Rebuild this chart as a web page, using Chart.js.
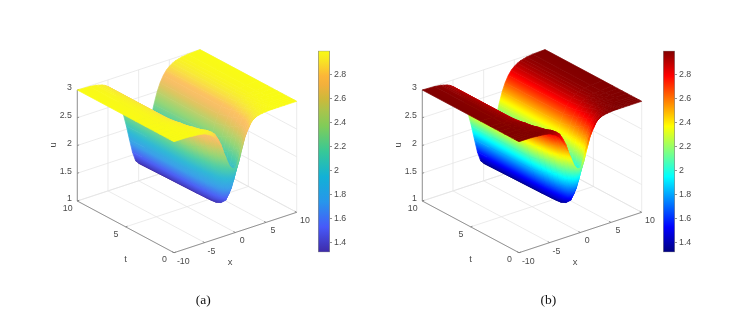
<!DOCTYPE html>
<html><head><meta charset="utf-8">
<style>
html,body{margin:0;padding:0;background:#fff;width:751px;height:316px;overflow:hidden}
.box{position:absolute}
canvas{display:block;filter:blur(0.35px)}
</style>
<script src="https://cdn.jsdelivr.net/npm/chart.js@4/dist/chart.umd.min.js"></script>
</head><body>
<div class="box" style="left:0;top:0;width:310px;height:316px"><canvas id="sa"></canvas></div>
<div class="box" style="left:345px;top:0;width:310px;height:316px"><canvas id="sb"></canvas></div>
<div class="box" style="left:316px;top:46px;width:32px;height:212px"><canvas id="ca"></canvas></div>
<div class="box" style="left:661px;top:46px;width:32px;height:212px"><canvas id="cb"></canvas></div>
<script>
// ---- values ----
const xGrid = [-10,-8,-7,-6.5,-6,-5.5,-5,-4.5,-4,-3.5,-3,-2.5,-2,-1.5,-1,-0.5,0,0.5,1,1.5,2,2.5,3,3.5,4,4.5,5,5.5,6,6.5,7,8,10];
const tGrid = [0,0.25,0.5,0.75,1,1.5,2,2.5,3,4,10];
const u_t0   = [3.00,3.00,2.99,2.985,2.98,2.97,2.96,2.93,2.90,2.85,2.77,2.67,2.54,2.39,2.25,2.17,2.16,2.29,2.49,2.67,2.80,2.89,2.94,2.966,2.98,2.99,2.995,3.00,3.00,3.00,3.00,3.00,3.00];
const u_t025 = [3.00,3.00,3.00,3.00,2.995,2.99,2.98,2.97,2.95,2.91,2.86,2.76,2.64,2.45,2.24,2.07,2.00,2.07,2.24,2.45,2.64,2.76,2.86,2.91,2.95,2.97,2.98,2.99,2.995,3.00,3.00,3.00,3.00];
const u_t05  = [3.00,3.00,3.00,3.00,2.99,2.99,2.98,2.96,2.94,2.89,2.83,2.71,2.56,2.34,2.08,1.88,1.79,1.88,2.08,2.34,2.56,2.71,2.83,2.89,2.94,2.96,2.98,2.99,2.99,3.00,3.00,3.00,3.00];
const u_t075 = [3.00,3.00,3.00,2.995,2.99,2.98,2.97,2.95,2.92,2.87,2.79,2.66,2.46,2.21,1.94,1.71,1.62,1.71,1.94,2.21,2.46,2.66,2.79,2.87,2.92,2.95,2.97,2.98,2.99,2.995,3.00,3.00,3.00];
const u_t1   = [3.00,3.00,2.995,2.99,2.985,2.98,2.96,2.94,2.89,2.83,2.73,2.58,2.37,2.09,1.81,1.58,1.49,1.58,1.81,2.09,2.37,2.58,2.73,2.83,2.89,2.94,2.96,2.98,2.985,2.99,2.995,3.00,3.00];
const u_t15  = [3.00,3.00,2.99,2.99,2.98,2.97,2.95,2.92,2.86,2.79,2.67,2.50,2.28,2.01,1.72,1.49,1.40,1.49,1.72,2.01,2.28,2.50,2.67,2.79,2.86,2.92,2.95,2.97,2.98,2.99,2.99,3.00,3.00];
const u_t2   = [3.00,2.995,2.99,2.98,2.97,2.96,2.93,2.89,2.84,2.75,2.62,2.44,2.21,1.93,1.66,1.44,1.36,1.44,1.66,1.93,2.21,2.44,2.62,2.75,2.84,2.89,2.93,2.96,2.97,2.98,2.99,2.995,3.00];
const u_t25  = [3.00,2.995,2.985,2.98,2.97,2.95,2.92,2.87,2.81,2.71,2.57,2.41,2.16,1.90,1.63,1.43,1.35,1.43,1.63,1.90,2.16,2.41,2.57,2.71,2.81,2.87,2.92,2.95,2.97,2.98,2.985,2.995,3.00];
const u_t3   = [3.00,2.99,2.98,2.97,2.955,2.93,2.90,2.85,2.78,2.69,2.54,2.35,2.11,1.86,1.60,1.41,1.345,1.41,1.60,1.86,2.11,2.35,2.54,2.69,2.78,2.85,2.90,2.93,2.955,2.97,2.98,2.99,3.00];
const u_t4   = [3.00,2.99,2.977,2.965,2.947,2.92,2.88,2.83,2.75,2.64,2.49,2.30,2.07,1.82,1.58,1.405,1.34,1.405,1.58,1.82,2.07,2.30,2.49,2.64,2.75,2.83,2.88,2.92,2.947,2.965,2.977,2.99,3.00];
const u_t10  = [3.00,2.99,2.975,2.96,2.945,2.92,2.88,2.83,2.75,2.64,2.49,2.29,2.06,1.80,1.55,1.38,1.316,1.38,1.55,1.80,2.06,2.29,2.49,2.64,2.75,2.83,2.88,2.92,2.945,2.96,2.975,2.99,3.00];
const uRows = [u_t0,u_t025,u_t05,u_t075,u_t1,u_t15,u_t2,u_t25,u_t3,u_t4,u_t10];
const xTicks = [-10,-5,0,5,10];
const tTicks = [0,5,10];
const uTicks = [1,1.5,2,2.5,3];
const barTicks = [1.4,1.6,1.8,2,2.2,2.4,2.6,2.8];
const colorMin = 1.316, colorMax = 3.0;
// ---- colour maps ----
const parulaStops = [[0,'#3e2aa8'],[0.125,'#4759f9'],[0.25,'#2796eb'],[0.375,'#12b1d6'],[0.5,'#37c897'],[0.625,'#80cc59'],[0.70,'#a8c44c'],[0.76,'#cdb93a'],[0.83,'#f2b03c'],[0.875,'#fcb638'],[0.95,'#f8e424'],[1,'#f9fb14']];
const paleParulaStops = [[0,'#3e2aa8'],[0.125,'#4d60f5'],[0.25,'#3b9fea'],[0.375,'#2fb9d6'],[0.5,'#50cfa6'],[0.625,'#96d676'],[0.70,'#bcd06a'],[0.76,'#dcc660'],[0.83,'#f6bf66'],[0.875,'#fcc262'],[0.95,'#f8e83a'],[1,'#f9fb14']];
const jetStops = [[0,'#000080'],[0.125,'#0000ff'],[0.375,'#00ffff'],[0.625,'#ffff00'],[0.875,'#ff0000'],[1,'#800000']];
function hex(c){return [1,3,5].map(i=>parseInt(c.substr(i,2),16));}
function colorAt(stops,u){
  const v=Math.min(1,Math.max(0,(u-colorMin)/(colorMax-colorMin)));
  for(let i=1;i<stops.length;i++){
    if(v<=stops[i][0]){
      const f=(v-stops[i-1][0])/(stops[i][0]-stops[i-1][0]);
      const a=hex(stops[i-1][1]),b=hex(stops[i][1]);
      return 'rgb('+a.map((q,k)=>Math.round(q+(b[k]-q)*f)).join(',')+')';
    }
  }
  return stops[stops.length-1][1];
}
// ---- oblique view of the box ----
const view = {ox:174,oy:252.7,xx:122.7,xy:40.4,tx:96.7,ty:51.7,uy:111};
function proj(x,t,u){
  const a=(x+10)/20,b=t/10;
  return {x:view.ox+a*view.xx-b*view.tx, y:view.oy-a*view.xy-b*view.ty-(u-1)/2*view.uy};
}
// plane fit of u over the projected quad gives a gradient for the cell
function cellPaint(chart,pts,us,stops){
  const sx=chart.scales.x,sy=chart.scales.y,ctx=chart.ctx;
  const cu=us.reduce((s,v)=>s+v,0)/us.length;
  if(!chart.chartArea||!sx||!sy) return null;
  const P=pts.map(p=>[sx.getPixelForValue(p.x),sy.getPixelForValue(p.y)]);
  if(P.some(p=>!Number.isFinite(p[0])||!Number.isFinite(p[1]))) return null;
  const n=P.length,cx=P.reduce((s,p)=>s+p[0],0)/n,cy=P.reduce((s,p)=>s+p[1],0)/n;
  let a=0,b=0,c=0,d=0,e=0;
  P.forEach((p,i)=>{const X=p[0]-cx,Y=p[1]-cy,U=us[i]-cu;a+=X*X;b+=X*Y;c+=Y*Y;d+=X*U;e+=Y*U;});
  const det=a*c-b*b,umin=Math.min(...us),umax=Math.max(...us);
  if(Math.abs(det)<1e-6||umax-umin<0.004) return colorAt(stops,cu);
  const gx=(c*d-b*e)/det,gy=(a*e-b*d)/det,g2=gx*gx+gy*gy;
  if(g2<1e-9) return colorAt(stops,cu);
  const k0=(umin-cu)/g2,k1=(umax-cu)/g2;
  const gr=ctx.createLinearGradient(cx+gx*k0,cy+gy*k0,cx+gx*k1,cy+gy*k1);
  for(let i=0;i<=6;i++){gr.addColorStop(i/6,colorAt(stops,umin+(umax-umin)*i/6));}
  return gr;
}
function lineSet(p,color,w){
  return {data:p,borderColor:color,borderWidth:w,pointRadius:0,fill:false,tension:0};
}
const gridColor='#e2e2e2',axisColor='#7c7c7c',textColor='#4a4a4a';
function buildDatasets(stops){
  const surf=[];
  // nearest cells first: Chart.js paints the dataset list from last to first
  for(let j=0;j<tGrid.length-1;j++){
    for(let i=0;i<xGrid.length-1;i++){
      const us=[uRows[j][i],uRows[j][i+1],uRows[j+1][i+1],uRows[j+1][i]];
      const pts=[proj(xGrid[i],tGrid[j],us[0]),proj(xGrid[i+1],tGrid[j],us[1]),proj(xGrid[i+1],tGrid[j+1],us[2]),proj(xGrid[i],tGrid[j+1],us[3])];
      let cache=null;
      const mean=colorAt(stops,(us[0]+us[1]+us[2]+us[3])/4);
      const paint=c=>{ if(!cache) cache=cellPaint(c.chart,pts,us,stops); return cache||mean; };
      surf.push({data:pts.concat([pts[0]]),backgroundColor:paint,borderColor:paint,borderWidth:0.7,
        borderJoinStyle:'round',pointRadius:0,fill:'shape',tension:0});
    }
  }
  const back=[];
  xTicks.forEach(x=>{
    back.push(lineSet([proj(x,tTicks[2],uTicks[0]),proj(x,tTicks[2],uTicks[4])],gridColor,0.7));
    back.push(lineSet([proj(x,tTicks[0],uTicks[0]),proj(x,tTicks[2],uTicks[0])],gridColor,0.7));
  });
  tTicks.forEach(t=>{
    back.push(lineSet([proj(xTicks[4],t,uTicks[0]),proj(xTicks[4],t,uTicks[4])],gridColor,0.7));
    back.push(lineSet([proj(xTicks[0],t,uTicks[0]),proj(xTicks[4],t,uTicks[0])],gridColor,0.7));
  });
  uTicks.forEach(u=>{
    back.push(lineSet([proj(xTicks[0],tTicks[2],u),proj(xTicks[4],tTicks[2],u)],gridColor,0.7));
    back.push(lineSet([proj(xTicks[4],tTicks[2],u),proj(xTicks[4],tTicks[0],u)],gridColor,0.7));
  });
  const axes=[
    lineSet([proj(-10,10,1),proj(-10,10,3)],axisColor,0.8),
    lineSet([proj(-10,10,1),proj(-10,0,1)],axisColor,0.8),
    lineSet([proj(-10,0,1),proj(10,0,1)],axisColor,0.8)
  ];
  uTicks.forEach(u=>axes.push(lineSet([proj(-10,10,u),proj(-9.7,10,u)],axisColor,0.8)));
  xTicks.forEach(x=>axes.push(lineSet([proj(x,0,1),proj(x,0.2,1)],axisColor,0.8)));
  tTicks.forEach(t=>axes.push(lineSet([proj(-10,t,1),proj(-9.7,t,1)],axisColor,0.8)));
  return surf.concat(axes,back);
}
function textPlugin(caption){
  return {id:'boxText',afterDraw(chart){
    const c=chart.ctx,sx=chart.scales.x,sy=chart.scales.y;
    const put=(s,p,dx,dy,align,font,col,rot)=>{
      c.save();c.font=font;c.fillStyle=col;c.textAlign=align;c.textBaseline='middle';
      c.translate(sx.getPixelForValue(p.x)+dx,sy.getPixelForValue(p.y)+dy);
      if(rot)c.rotate(rot);
      c.fillText(s,0,0);c.restore();
    };
    const f='8.8px "Liberation Sans"',F='9.4px "Liberation Sans"';
    uTicks.forEach(u=>put(String(u),proj(-10,10,u),-5.4,-2,'right',f,textColor));
    tTicks.forEach(t=>put(String(t),proj(-10,t,1),-9.6,7.3,'center',f,textColor));
    xTicks.forEach(x=>put(String(x),proj(x,0,1),x===10?8.3:(x===-10?9.3:6.8),8.5,'center',f,textColor));
    put('u',proj(-10,10,2),-24,-0.5,'center',F,textColor,-Math.PI/2);
    put('t',proj(-10,5,1),0,32.5,'center',F,textColor);
    put('x',proj(0,0,1),-5.3,29.8,'center',F,textColor);
    put(caption,{x:203.3,y:300.7},0,0,'center','13.5px "Liberation Serif"','#111');
  }};
}
function makeSurface(id,stops,caption){
  new Chart(document.getElementById(id),{
    type:'line',
    data:{datasets:buildDatasets(stops)},
    plugins:[textPlugin(caption)],
    options:{responsive:false,animation:false,events:[],
      layout:{padding:0},
      plugins:{legend:{display:false},tooltip:{enabled:false},title:{display:false}},
      scales:{
        x:{type:'linear',display:false,min:0,max:310},
        y:{type:'linear',display:false,min:0,max:316,reverse:true}
      }
    }
  });
}
function makeBar(id,stops){
  const paint=c=>{
    const ch=c.chart,s=ch.scales.y;
    if(!s||!ch.chartArea) return stops[0][1];
    const y0=s.getPixelForValue(colorMin),y1=s.getPixelForValue(colorMax);
    if(!Number.isFinite(y0)||!Number.isFinite(y1)) return stops[0][1];
    const g=ch.ctx.createLinearGradient(0,y0,0,y1);
    stops.forEach(q=>g.addColorStop(q[0],q[1]));
    return g;
  };
  new Chart(document.getElementById(id),{
    type:'bar',
    data:{labels:['u'],datasets:[{data:[[colorMin,colorMax]],backgroundColor:paint,borderColor:'#8c8c8c',borderWidth:1,borderSkipped:false,barPercentage:1,categoryPercentage:1}]},
    options:{responsive:false,animation:false,events:[],
      layout:{padding:{left:2,right:0,top:4.7,bottom:5.7}},
      plugins:{legend:{display:false},tooltip:{enabled:false}},
      scales:{
        x:{display:false,offset:true},
        y:{position:'right',min:colorMin,max:colorMax,
          afterBuildTicks(a){a.ticks=barTicks.map(v=>({value:v}));},
          afterFit(a){a.width=18;a.paddingTop=0;a.paddingBottom=0;},
          border:{display:false},
          grid:{drawOnChartArea:false,drawTicks:true,tickLength:2,tickColor:'#777',lineWidth:0.8},
          ticks:{padding:2,color:textColor,font:{family:'"Liberation Sans"',size:8.8},callback:v=>String(v)}
        }
      }
    }
  });
}
function size(id,w,h){const e=document.getElementById(id);e.width=w;e.height=h;e.style.width=w+'px';e.style.height=h+'px';}
size('sa',310,316);size('sb',310,316);size('ca',32,212);size('cb',32,212);
makeSurface('sa',paleParulaStops,'(a)');
makeSurface('sb',jetStops,'(b)');
makeBar('ca',parulaStops);
makeBar('cb',jetStops);
</script>
</body></html>
